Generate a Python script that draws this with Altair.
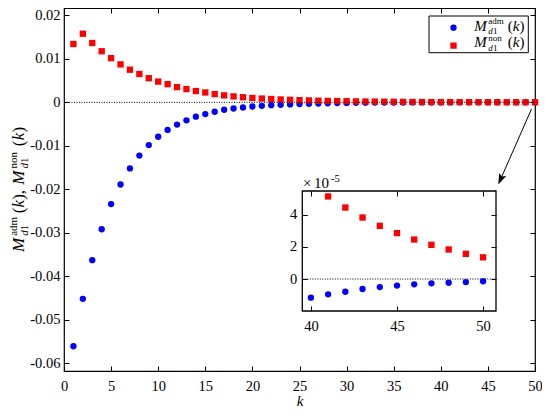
import math
import altair as alt
import pandas as pd

# ---------------- data ----------------
k_values = list(range(1, 51))
m_adm = [-0.0561, -0.0452, -0.0363, -0.0292, -0.0234, -0.0189, -0.0152, -0.01224, -0.00984, -0.00792,
         -0.00634, -0.00511, -0.00413, -0.00329, -0.0027, -0.00216, -0.0017, -0.00141, -0.00118, -0.00095,
         -0.0008, -0.00066, -0.00056, -0.00047, -0.0004, -0.00033, -0.00027, -0.00021, -0.00017, -0.00013,
         -0.000105, -0.000083, -0.000066, -0.000052, -0.000041, -0.000032, -0.000025, -0.00002, -0.000015, -0.0000116,
         -0.0000095, -0.0000079, -0.0000062, -0.000005, -0.0000041, -0.0000033, -0.0000027, -0.0000023, -0.0000019, -0.0000014]
m_non = [0.01342, 0.01578, 0.01364, 0.01175, 0.01016, 0.00873, 0.0075, 0.00652, 0.00555, 0.00477,
         0.00418, 0.0035, 0.00305, 0.00259, 0.00227, 0.0019, 0.0016, 0.00137, 0.00117, 0.001,
         0.00087, 0.00076, 0.00066, 0.00058, 0.0005, 0.00044, 0.00038, 0.00033, 0.00029, 0.00026,
         0.000224, 0.000194, 0.000167, 0.000144, 0.000124, 0.000107, 0.0000925, 0.0000798, 0.0000689, 0.0000595,
         0.0000514, 0.0000445, 0.0000383, 0.0000331, 0.0000286, 0.0000246, 0.0000213, 0.0000184, 0.0000157, 0.0000135]
series_names = ["adm", "non"]
x_ticks = list(range(0, 51, 5))
y_ticks = [-0.06, -0.05, -0.04, -0.03, -0.02, -0.01, 0.0, 0.01, 0.02]
inset_x_ticks = [40, 45, 50]
inset_y_ticks = [0, 2, 4]
inset_k_min = 40
inset_factor = 1e5

# ---------------- layout constants ----------------
FONT = "Liberation Serif, Times New Roman, serif"
OX, OY = 64.0, 8.0            # page position of the plot area's top-left corner
W, H = 471, 363
X_DOM = [0, 50]
Y_DOM = [-0.0618, 0.0217]
IX_DOM = [39.5, 50.75]
IY_DOM = [-1.99, 5.48]
IX_RANGE = [302.3 - OX, 496.0 - OX]
IY_RANGE = [311.0 - OY, 191.0 - OY]
TICK = 5

df = pd.DataFrame({
    "k": k_values * 2,
    "value": m_adm + m_non,
    "series": ["adm"] * len(k_values) + ["non"] * len(k_values),
})

xs_main = alt.Scale(domain=X_DOM, nice=False, zero=False)
ys_main = alt.Scale(domain=Y_DOM, nice=False, zero=False)
xs_in = alt.Scale(domain=IX_DOM, range=IX_RANGE, nice=False, zero=False)
ys_in = alt.Scale(domain=IY_DOM, range=IY_RANGE, nice=False, zero=False)

color_scale = alt.Scale(domain=series_names, range=["#0000ff", "#ff0000"])
shape_scale = alt.Scale(domain=series_names, range=["circle", "square"])
leg = alt.Legend(orient="none", legendX=451.7 - OX - 3.2, legendY=11.0, title=None, labelExpr="''",
                 padding=0, symbolSize=40, clipHeight=17.3, rowPadding=0,
                 symbolStrokeWidth=0, zindex=2)

def ax(orient, values, offset, labels=True, pad=4, title="", **kw):
    return alt.Axis(orient=orient, values=values, offset=offset, labels=labels,
                    tickSize=TICK, labelPadding=pad, title=title, zindex=1,
                    domain=False, grid=False, labelFont=FONT, **kw)

y_label_expr = "datum.value == 0 ? '0' : (datum.value < 0 ? '-' : '') + format(abs(datum.value), '.2f')"

# ---------------- main panel ----------------
points = alt.Chart(df).mark_point(filled=True, size=40, opacity=1).encode(
    x=alt.X("k:Q", scale=xs_main,
            axis=ax("bottom", x_ticks, -TICK, pad=8, title="k", titleFont=FONT,
                    titleFontStyle="italic", titleFontWeight="normal", titleFontSize=15,
                    titleBaseline="alphabetic", titleY=39, labelFlush=False)),
    y=alt.Y("value:Q", scale=ys_main,
            axis=ax("left", y_ticks, -TICK, pad=4, labelExpr=y_label_expr)),
    color=alt.Color("series:N", scale=color_scale, legend=leg),
    shape=alt.Shape("series:N", scale=shape_scale, legend=leg),
)

zero_df = pd.DataFrame({"x0": [X_DOM[0]], "x1": [X_DOM[1]], "y0": [0.0]})
zero_rule = alt.Chart(zero_df).mark_rule(color="black", strokeDash=[1, 1.5], strokeWidth=1).encode(
    x=alt.X("x0:Q", scale=xs_main, axis=ax("top", x_ticks, -TICK, labels=False)),
    x2="x1:Q",
    y=alt.Y("y0:Q", scale=ys_main, axis=ax("right", y_ticks, -TICK, labels=False)),
)

main = alt.layer(points, zero_rule).resolve_axis(x="independent", y="independent")

# ---------------- inset panel ----------------
frame_df = pd.DataFrame({"x0": [IX_DOM[0]], "x1": [IX_DOM[1]], "y0": [IY_DOM[0]], "y1": [IY_DOM[1]]})
inset_frame = alt.Chart(frame_df).mark_rect(fill="white", stroke="black", strokeWidth=1.3).encode(
    x=alt.X("x0:Q", scale=xs_in, axis=ax("top", inset_x_ticks, -(IY_RANGE[1] + TICK), labels=False)),
    x2="x1:Q",
    y=alt.Y("y0:Q", scale=ys_in, axis=ax("right", inset_y_ticks, (IX_RANGE[1] - TICK) - W, labels=False)),
    y2="y1:Q",
)
izero_df = pd.DataFrame({"x0": [IX_DOM[0]], "x1": [IX_DOM[1]], "y0": [0.0]})
inset_zero = alt.Chart(izero_df).mark_rule(color="black", strokeDash=[1, 1.5], strokeWidth=1).encode(
    x=alt.X("x0:Q", scale=xs_in, axis=None),
    x2="x1:Q",
    y=alt.Y("y0:Q", scale=ys_in, axis=None),
)
inset_points = alt.Chart(df).transform_filter(
    alt.datum.k >= inset_k_min
).transform_calculate(
    v=f"datum.value * {inset_factor}"
).transform_filter(
    f"datum.v >= {IY_DOM[0]} && datum.v <= {IY_DOM[1]}"
).mark_point(filled=True, size=40, opacity=1).encode(
    x=alt.X("k:Q", scale=xs_in,
            axis=ax("bottom", inset_x_ticks, (IY_RANGE[0] - TICK) - H, pad=8, labelFlush=False)),
    y=alt.Y("v:Q", scale=ys_in,
            axis=ax("left", inset_y_ticks, -(IX_RANGE[0] + TICK), pad=5.5)),
    color=alt.Color("series:N", scale=color_scale, legend=leg),
    shape=alt.Shape("series:N", scale=shape_scale, legend=leg),
)
inset = alt.layer(inset_frame, inset_zero, inset_points).resolve_axis(x="independent", y="independent")

# ---------------- annotations ----------------
one = pd.DataFrame({"a": [0]})

def txt(s, x, y, size, italic=False, angle=0):
    return alt.Chart(one).mark_text(
        text=s, font=FONT, fontSize=size, fontStyle="italic" if italic else "normal",
        align="left", baseline="alphabetic", color="black", angle=angle
    ).encode(x=alt.value(x), y=alt.value(y))

annos = []

# legend frame + math labels
annos.append(alt.Chart(one).mark_rect(fill="white", stroke="black", strokeWidth=1).encode(
    x=alt.value(429.0 - OX), x2=alt.value(528.3 - OX), y=alt.value(16.0 - OY), y2=alt.value(52.7 - OY)))

def legend_label(sup, L, B):
    return [txt("M", L, B, 15, True),
            txt(sup, L + 14.0, B - 6.5, 9),
            txt("d", L + 14.0, B + 3.5, 9, True),
            txt("1", L + 18.6, B + 3.5, 9),
            txt("(", L + 33.4, B, 15),
            txt("k", L + 38.4, B, 15, True),
            txt(")", L + 45.1, B, 15)]

annos += legend_label("adm", 474.3 - OX, 30.7 - OY)
annos += legend_label("non", 474.3 - OX, 47.3 - OY)

# rotated y-axis title (reads bottom to top)
s = 1.157
X0, Y0 = 23.5 - OX, 252.0 - OY

def rot(sstr, t, v, size, italic=False):
    return txt(sstr, X0 - v, Y0 - t, size, italic, angle=270)

def title_label(sup, t0):
    return [rot("M", t0, 0, 17, True),
            rot(sup, t0 + 14.0 * s, 6.5, 11),
            rot("d", t0 + 14.0 * s, -4.0, 11, True),
            rot("1", t0 + 14.0 * s + 5.5, -4.0, 11),
            rot("(", t0 + 33.4 * s, 0, 17),
            rot("k", t0 + 38.4 * s, 0, 17, True),
            rot(")", t0 + 45.1 * s, 0, 17)]

annos += title_label("adm", 0)
annos.append(rot(",", 50.0 * s, 0, 17))
annos += title_label("non", 67.2)

# inset exponent label
annos.append(txt("\u00d7", 303.0 - OX, 188.0 - OY, 15))
annos.append(txt("10", 314.0 - OX, 188.0 - OY, 15))
annos.append(txt("-5", 331.0 - OX, 181.5 - OY, 10.5))

# arrow
S = (531.5 - OX, 109.0 - OY)
T = (498.3 - OX, 184.5 - OY)
dx, dy = T[0] - S[0], T[1] - S[1]
L = math.hypot(dx, dy)
ux, uy = dx / L, dy / L
r = 5.5
C = (T[0] - r * ux, T[1] - r * uy)
ang = math.degrees(math.atan2(-ux, uy)) % 360
annos.append(alt.Chart(one).mark_rule(color="black", strokeWidth=1).encode(
    x=alt.value(S[0]), y=alt.value(S[1]), x2=alt.value(C[0]), y2=alt.value(C[1])))
annos.append(alt.Chart(one).mark_point(
    shape="M0,1L-0.7,-1L0,-0.6L0.7,-1Z", filled=True, size=(2 * r) ** 2, angle=ang,
    color="black", opacity=1).encode(x=alt.value(C[0]), y=alt.value(C[1])))

chart = alt.layer(main, inset, *annos).resolve_scale(
    x="independent", y="independent"
).properties(
    width=W, height=H,
    autosize=alt.AutoSizeParams(type="none"),
    padding={"left": OX - 8, "top": OY - 8, "right": 7, "bottom": 37},
).configure_axis(
    labelFont=FONT, labelFontSize=14.5, labelColor="black", tickColor="black", tickWidth=1,
    titleColor="black", titleFont=FONT,
).configure_text(font=FONT).configure_view(stroke="black", strokeWidth=1.2)

chart.save("out.html", embed_options={"renderer": "svg", "actions": False})
